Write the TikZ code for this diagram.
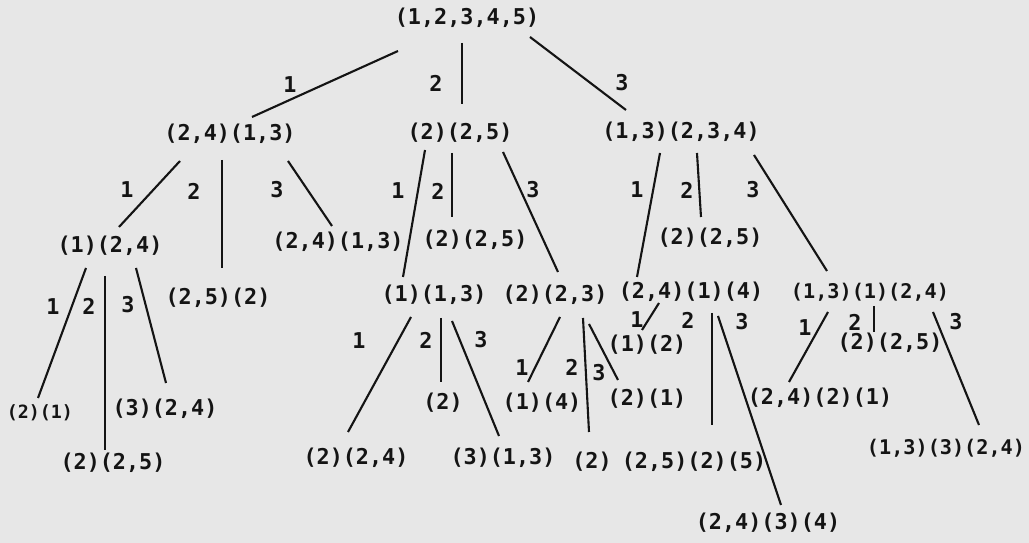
\documentclass[tikz,border=0pt]{standalone}
\usepackage{fontspec}
\setmonofont{DejaVu Sans Mono}
\usepackage{xcolor}
\usepackage{tikz}
\usetikzlibrary{calc}
\definecolor{paper}{RGB}{231,231,231}
\definecolor{ink}{RGB}{20,20,20}
\tikzset{
  statebox/.style={
    inner sep=0pt, text=ink,
    font=\ttfamily\bfseries\fontsize{12.4}{14}\selectfont
  },
  narrowstatebox/.style={
    statebox, font=\ttfamily\bfseries\fontsize{11.5}{14}\selectfont
  },
  smallstatebox/.style={
    statebox, font=\ttfamily\bfseries\fontsize{10.4}{12}\selectfont
  },
  branch/.style={
    draw=ink, line width=1.2pt
  },
  branchlabel/.style={
    inner sep=0pt, text=ink,
    font=\ttfamily\bfseries\fontsize{12.4}{14}\selectfont
  },
}

\begin{document}
\begin{tikzpicture}[x=0.02cm, y=-0.02cm]
  % ── Page ───────────────────────────────────────────────────────
  \fill[paper] (0,0) rectangle (1029,543);
  \useasboundingbox (0,0) rectangle (1029,543);

  % ── Root ───────────────────────────────────────────────────────
  \node[statebox] (root) at (467,18) {(1,2,3,4,5)};

  % ── First level ────────────────────────────────────────────────
  \node[statebox] (a) at (230,134) {(2,4)(1,3)};
  \node[statebox] (b) at (460,133) {(2)(2,5)};
  \node[statebox] (c) at (681,132) {(1,3)(2,3,4)};

  \draw[branch] ($(root)+(-69,33)$) -- ($(a)+(22,-17)$);
  \draw[branch] ($(root)+(-5,25)$) -- ($(b)+(2,-29)$);
  \draw[branch] ($(root)+(63,19)$) -- ($(c)+(-55,-22)$);
  \node[branchlabel] (lr1) at (290,85) {1};
  \node[branchlabel] (lr2) at (436,83) {2};
  \node[branchlabel] (lr3) at (622,83) {3};

  % ── Under (2,4)(1,3) ───────────────────────────────────────────
  \node[statebox] (a1) at (110,246) {(1)(2,4)};
  \node[statebox] (a2) at (218,298) {(2,5)(2)};
  \node[statebox] (a3) at (338,242) {(2,4)(1,3)};

  \draw[branch] ($(a)+(-50,27)$) -- ($(a1)+(9,-19)$);
  \draw[branch] ($(a)+(-8,26)$) -- ($(a2)+(4,-30)$);
  \draw[branch] ($(a)+(58,27)$) -- ($(a3)+(-6,-16)$);
  \node[branchlabel] (la1) at (127,190) {1};
  \node[branchlabel] (la2) at (194,191) {2};
  \node[branchlabel] (la3) at (277,190) {3};

  \node[smallstatebox] (a11) at (40,413) {(2)(1)};
  \node[statebox] (a12) at (113,463) {(2)(2,5)};
  \node[statebox] (a13) at (165,409) {(3)(2,4)};

  \draw[branch] ($(a1)+(-24,22)$) -- ($(a11)+(-2,-15)$);
  \draw[branch] ($(a1)+(-5,30)$) -- ($(a12)+(-8,-13)$);
  \draw[branch] ($(a1)+(26,22)$) -- ($(a13)+(1,-26)$);
  \node[branchlabel] (la11) at (53,307) {1};
  \node[branchlabel] (la12) at (89,306) {2};
  \node[branchlabel] (la13) at (128,305) {3};

  % ── Under (2)(2,5) ─────────────────────────────────────────────
  \node[statebox] (b1) at (434,295) {(1)(1,3)};
  \node[statebox] (b2) at (475,240) {(2)(2,5)};
  \node[statebox] (b3) at (555,295) {(2)(2,3)};

  \draw[branch] ($(b)+(-35,17)$) -- ($(b1)+(-31,-18)$);
  \draw[branch] ($(b)+(-8,20)$) -- ($(b2)+(-23,-23)$);
  \draw[branch] ($(b)+(43,19)$) -- ($(b3)+(3,-23)$);
  \node[branchlabel] (lb1) at (398,191) {1};
  \node[branchlabel] (lb2) at (438,191) {2};
  \node[branchlabel] (lb3) at (533,190) {3};

  \node[statebox] (b11) at (356,458) {(2)(2,4)};
  \node[statebox] (b12) at (443,403) {(2)};
  \node[statebox] (b13) at (503,458) {(3)(1,3)};

  \draw[branch] ($(b1)+(-23,22)$) -- ($(b11)+(-8,-26)$);
  \draw[branch] ($(b1)+(7,23)$) -- ($(b12)+(-2,-21)$);
  \draw[branch] ($(b1)+(18,26)$) -- ($(b13)+(-4,-22)$);
  \node[branchlabel] (lb11) at (359,341) {1};
  \node[branchlabel] (lb12) at (426,340) {2};
  \node[branchlabel] (lb13) at (481,340) {3};

  \node[statebox] (b31) at (542,403) {(1)(4)};
  \node[statebox] (b32) at (592,462) {(2)};
  \node[statebox] (b33) at (647,399) {(2)(1)};

  \draw[branch] ($(b3)+(5,22)$) -- ($(b31)+(-14,-21)$);
  \draw[branch] ($(b3)+(28,23)$) -- ($(b32)+(-3,-30)$);
  \draw[branch] ($(b3)+(34,29)$) -- ($(b33)+(-29,-19)$);
  \node[branchlabel] (lb31) at (522,368) {1};
  \node[branchlabel] (lb32) at (572,367) {2};
  \node[branchlabel] (lb33) at (599,373) {3};

  % ── Under (1,3)(2,3,4) ─────────────────────────────────────────
  \node[statebox] (c1) at (691,292) {(2,4)(1)(4)};
  \node[statebox] (c2) at (710,238) {(2)(2,5)};
  \node[narrowstatebox] (c3) at (870,292) {(1,3)(1)(2,4)};

  \draw[branch] ($(c)+(-21,21)$) -- ($(c1)+(-54,-15)$);
  \draw[branch] ($(c)+(16,21)$) -- ($(c2)+(-9,-21)$);
  \draw[branch] ($(c)+(73,23)$) -- ($(c3)+(-43,-21)$);
  \node[branchlabel] (lc1) at (637,190) {1};
  \node[branchlabel] (lc2) at (687,190) {2};
  \node[branchlabel] (lc3) at (753,190) {3};

  \node[statebox] (c11) at (647,345) {(1)(2)};
  \node[statebox] (c12) at (694,462) {(2,5)(2)(5)};
  \node[statebox] (c13) at (768,523) {(2,4)(3)(4)};

  \draw[branch] ($(c1)+(-32,11)$) -- ($(c11)+(-5,-15)$);
  \draw[branch] ($(c1)+(21,21)$) -- ($(c12)+(18,-37)$);
  \draw[branch] ($(c1)+(27,24)$) -- ($(c13)+(13,-18)$);
  \node[branchlabel] (lc11) at (637,320) {1};
  \node[branchlabel] (lc12) at (688,320) {2};
  \node[branchlabel] (lc13) at (742,322) {3};

  \node[statebox] (c31) at (820,398) {(2,4)(2)(1)};
  \node[statebox] (c32) at (890,343) {(2)(2,5)};
  \node[narrowstatebox] (c33) at (946,448) {(1,3)(3)(2,4)};

  \draw[branch] ($(c3)+(-42,20)$) -- ($(c31)+(-31,-16)$);
  \draw[branch] ($(c3)+(4,14)$) -- ($(c32)+(-16,-11)$);
  \draw[branch] ($(c3)+(63,20)$) -- ($(c33)+(33,-23)$);
  \node[branchlabel] (lc31) at (805,328) {1};
  \node[branchlabel] (lc32) at (855,322) {2};
  \node[branchlabel] (lc33) at (956,322) {3};
\end{tikzpicture}
\end{document}
